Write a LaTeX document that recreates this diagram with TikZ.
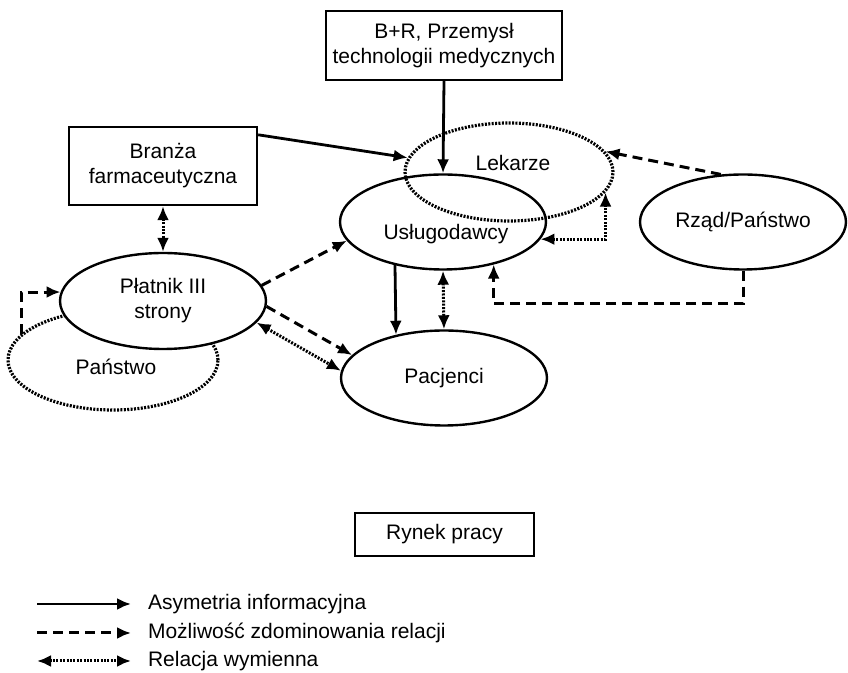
\documentclass[tikz,border=0pt]{standalone}
\usepackage{fontspec}
\setmainfont{Liberation Sans}
\usetikzlibrary{calc,shapes.geometric,arrows.meta}

\tikzset{
  info/.style={line width=1.4pt,-{Latex[length=7pt,width=6pt]}},
  dom/.style={line width=1.5pt,dash pattern=on 5pt off 3pt,-{Latex[length=7pt,width=6pt]}},
  exch/.style={line width=1.5pt,dash pattern=on 1pt off 0.7pt,{Latex[length=7pt,width=6pt]}-{Latex[length=7pt,width=6pt]}},
  bubble/.style={ellipse,draw,line width=1.2pt,inner sep=0pt,minimum width=103pt,minimum height=47.5pt,align=center},
  dotbubble/.style={bubble,line width=1.6pt,dash pattern=on 1pt off 0.7pt},
  frame/.style={rectangle,draw,line width=1.2pt,inner sep=0pt,align=center}
}

\begin{document}
\begin{tikzpicture}[x={5pt},y={-5pt},font=\fontsize{10.5}{12.5}\selectfont]
\useasboundingbox (0,0) rectangle (84.8,67.3);

\node [frame,minimum width=118pt,minimum height=34.5pt] (brbox) at (44.4,4.55) {B+R, Przemysł\\technologii medycznych};
\node [frame,minimum width=94pt,minimum height=39pt] (branza) at (16.3,16.6) {Branża\\farmaceutyczna};
\node [frame,minimum width=89.5pt,minimum height=21.5pt] (rynek) at (44.45,53.45) {Rynek pracy};

\node [bubble] (uslug) at (44.3,22.2) {};
\node (uslugtxt) at (44.6,23.4) {Usługodawcy};
\node [dotbubble,minimum width=104pt,minimum height=49pt] (lek) at (50.9,17.2) {};
\node (lektxt) at (51.3,16.3) {Lekarze};
\node [bubble] (rzad) at (74.3,22.2) {Rząd/Państwo};
\node [dotbubble,minimum width=105pt,minimum height=50pt] (panstwo) at (11.3,36.0) {};
\node (panstwotxt) at (11.6,36.7) {Państwo};
\node [bubble,fill=white,minimum height=48pt] (platnik) at (16.3,30.1) {Płatnik III\\strony};
\node [bubble] (pac) at (44.4,37.8) {Pacjenci};

\draw [info] (brbox.south) -- (uslug.north);
\coordinate (bstart) at ($(branza.north east)+(0,0.9)$);
\draw [info] (bstart) -- (lek.172);
\draw [exch] (branza.south) -- (platnik.north);
\draw [dom] (rzad.115) -- (lek.12);
\draw [exch] (uslug.-10) -| (lek.-12);
\draw [dom] (rzad.south) -- ++(0,3.3) -| (uslug.-40);
\draw [info] (uslug.222) -- (pac.138);
\draw [exch] (uslug.south) -- (pac.north);
\draw [dom] (platnik.9) -- (uslug.191);
\draw [dom] (platnik.-3) -- (pac.166);
\draw [exch] (platnik.-13) -- (pac.176);
\draw [dom] (panstwo.164) |- (platnik.175);

% legenda
\coordinate (leg1) at (3.7,60.4);
\coordinate (leg2) at (3.7,63.3);
\coordinate (leg3) at (3.7,66.1);
\node [right] (legtxt1) at (14.1,60.4) {Asymetria informacyjna};
\node [right] (legtxt2) at (14.1,63.3) {Możliwość zdominowania relacji};
\node [right] (legtxt3) at (14.1,66.1) {Relacja wymienna};
\draw [info,shorten >=5pt] (leg1) -- (legtxt1.west);
\draw [dom,shorten >=5pt] (leg2) -- (legtxt2.west);
\draw [exch,shorten >=5pt] (leg3) -- (legtxt3.west);

\end{tikzpicture}
\end{document}
